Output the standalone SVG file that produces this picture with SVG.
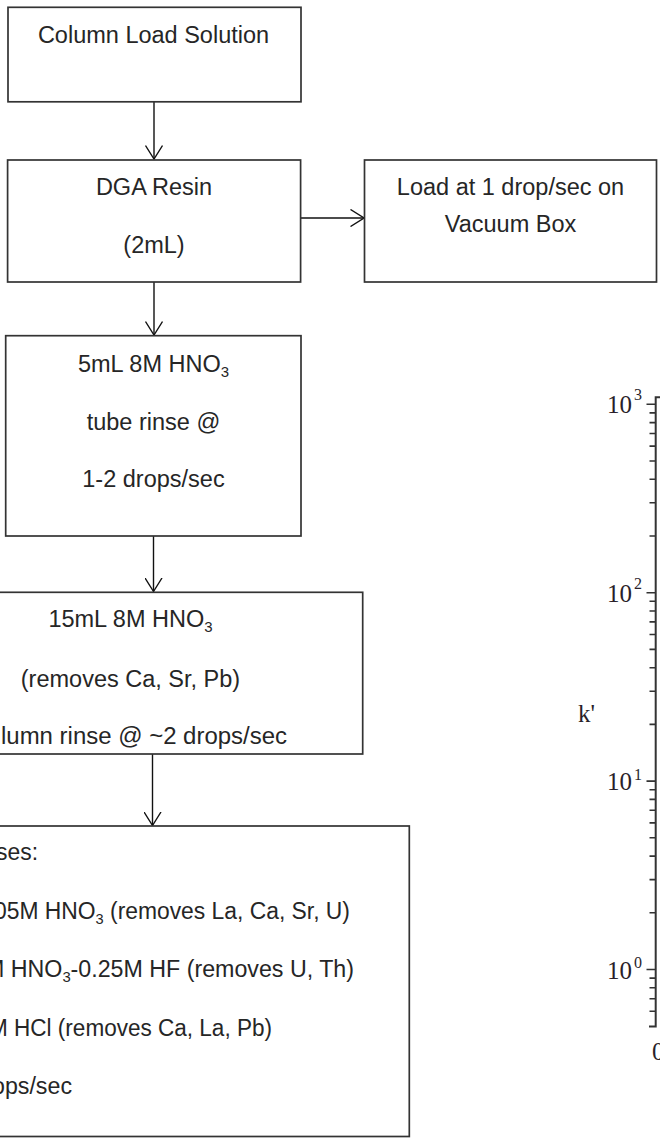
<svg xmlns="http://www.w3.org/2000/svg" width="660" height="1138" viewBox="0 0 660 1138">
  <style>
    .box { fill: #ffffff; stroke: #333333; stroke-width: 1.7; }
    .lbl { font-family: "Liberation Sans", Arial, sans-serif; font-size: 23.5px; fill: #262626; }
    .mid { text-anchor: middle; }
    .sub { font-size: 15px; baseline-shift: -5px; }
    .conn { stroke: #111111; stroke-width: 1.4; fill: none; }
    .axis { stroke: #333333; stroke-width: 2; fill: none; }
    .tick { stroke: #333333; stroke-width: 1.6; fill: none; }
    .num { font-family: "Liberation Serif", "Times New Roman", serif; font-size: 25px; fill: #2a1f2a; }
    .sup { font-family: "Liberation Serif", "Times New Roman", serif; font-size: 16px; fill: #2a1f2a; }
  </style>
  <defs>
    <marker id="open-arrow" markerUnits="userSpaceOnUse" viewBox="0 0 15 18" refX="14" refY="9" markerWidth="15" markerHeight="18" orient="auto">
      <path d="M0.5,0.5 L14,9 L0.5,17.5" fill="none" stroke="#111111" stroke-width="1.4"/>
    </marker>
  </defs>

  <rect width="660" height="1138" fill="#ffffff"/>

  <!-- flowchart connectors -->
  <g id="connectors">
    <line class="conn" x1="154" y1="102" x2="154" y2="159" marker-end="url(#open-arrow)"/>
    <line class="conn" x1="300.5" y1="218" x2="364" y2="218" marker-end="url(#open-arrow)"/>
    <line class="conn" x1="154" y1="282" x2="154" y2="335" marker-end="url(#open-arrow)"/>
    <line class="conn" x1="153.5" y1="536" x2="153.5" y2="591.5" marker-end="url(#open-arrow)"/>
    <line class="conn" x1="152.5" y1="754" x2="152.5" y2="825.5" marker-end="url(#open-arrow)"/>
  </g>

  <g id="node-load-solution">
    <rect class="box" x="8" y="7.3" width="293" height="94.5"/>
    <text class="lbl mid" x="153.5" y="43">Column Load Solution</text>
  </g>

  <g id="node-dga-resin">
    <rect class="box" x="7.6" y="160" width="293" height="122"/>
    <text class="lbl mid" x="154" y="195">DGA Resin</text>
    <text class="lbl mid" x="154" y="253">(2mL)</text>
  </g>

  <g id="node-vacuum-box">
    <rect class="box" x="364.5" y="160" width="292" height="122"/>
    <text class="lbl mid" x="510.5" y="195">Load at 1 drop/sec on</text>
    <text class="lbl mid" x="510.5" y="231.5">Vacuum Box</text>
  </g>

  <g id="node-tube-rinse">
    <rect class="box" x="5.7" y="335.7" width="295.3" height="200.3"/>
    <text class="lbl mid" x="153.5" y="372">5mL 8M HNO<tspan class="sub">3</tspan></text>
    <text class="lbl mid" x="153.5" y="430">tube rinse @</text>
    <text class="lbl mid" x="153.5" y="487">1-2 drops/sec</text>
  </g>

  <g id="node-column-rinse">
    <rect class="box" x="-102" y="592.3" width="464.7" height="161.7"/>
    <text class="lbl mid" x="130.5" y="627">15mL 8M HNO<tspan class="sub">3</tspan></text>
    <text class="lbl mid" x="130.5" y="686.5">(removes Ca, Sr, Pb)</text>
    <text class="lbl" x="1" y="744" textLength="286" lengthAdjust="spacingAndGlyphs">lumn rinse @ ~2 drops/sec</text>
  </g>

  <g id="node-rinses">
    <rect class="box" x="-60" y="826" width="469.3" height="310.5"/>
    <text class="lbl" x="-4" y="860" textLength="42" lengthAdjust="spacingAndGlyphs">ses:</text>
    <text class="lbl" x="-6" y="919" textLength="356" lengthAdjust="spacingAndGlyphs">05M HNO<tspan class="sub">3</tspan> (removes La, Ca, Sr, U)</text>
    <text class="lbl" x="-15" y="977" textLength="369" lengthAdjust="spacingAndGlyphs">M HNO<tspan class="sub">3</tspan>-0.25M HF (removes U, Th)</text>
    <text class="lbl" x="-11" y="1036" textLength="283" lengthAdjust="spacingAndGlyphs">M HCl (removes Ca, La, Pb)</text>
    <text class="lbl" x="-8" y="1094" textLength="80" lengthAdjust="spacingAndGlyphs">ops/sec</text>
  </g>

  <!-- log-scale axis of the k' plot -->
  <g id="plot-axis">
    <path class="axis" d="M660,397.3 H655.7 V1026.5 H649"/>
    <g id="major-ticks">
      <path class="tick" d="M646.5,404.3 H655.7 M646.5,592.7 H655.7 M646.5,781.1 H655.7 M646.5,969.5 H655.7"/>
    </g>
    <g id="minor-ticks">
      <path class="tick" d="M649.5,412.9 H655.7 M649.5,422.6 H655.7 M649.5,433.5 H655.7 M649.5,446.1 H655.7 M649.5,461 H655.7 M649.5,479.3 H655.7 M649.5,502.8 H655.7 M649.5,536 H655.7"/>
      <path class="tick" d="M649.5,601.3 H655.7 M649.5,611 H655.7 M649.5,621.9 H655.7 M649.5,634.5 H655.7 M649.5,649.4 H655.7 M649.5,667.7 H655.7 M649.5,691.2 H655.7 M649.5,724.4 H655.7"/>
      <path class="tick" d="M649.5,789.7 H655.7 M649.5,799.4 H655.7 M649.5,810.3 H655.7 M649.5,822.9 H655.7 M649.5,837.8 H655.7 M649.5,856.1 H655.7 M649.5,879.6 H655.7 M649.5,912.8 H655.7"/>
      <path class="tick" d="M649.5,978.1 H655.7 M649.5,987.8 H655.7 M649.5,998.7 H655.7 M649.5,1011.3 H655.7"/>
    </g>
    <g id="tick-labels">
      <text class="num" x="607" y="413">10</text><text class="sup" x="634" y="400">3</text>
      <text class="num" x="607" y="602">10</text><text class="sup" x="634" y="588.5">2</text>
      <text class="num" x="607" y="790">10</text><text class="sup" x="634" y="780">1</text>
      <text class="num" x="607" y="978.5">10</text><text class="sup" x="634" y="968">0</text>
      <text class="num" x="652" y="1060">0</text>
    </g>
    <text id="axis-title" class="num" x="578" y="721.5">k'</text>
  </g>
</svg>
